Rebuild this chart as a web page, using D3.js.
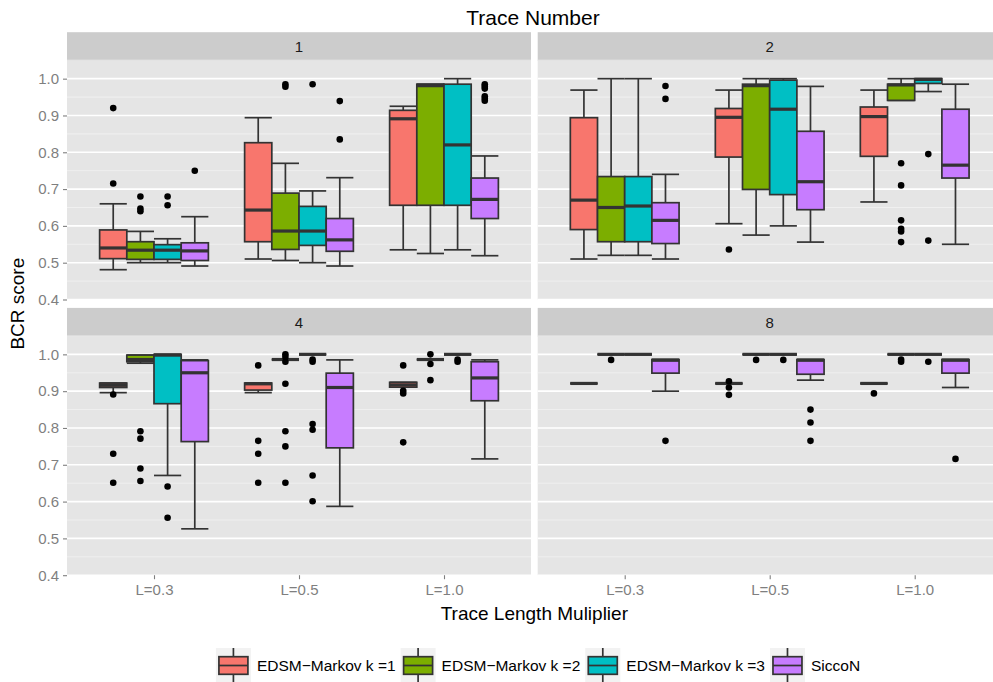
<!DOCTYPE html>
<html>
<head>
<meta charset="utf-8">
<script src="https://cdn.jsdelivr.net/npm/d3@7"></script>
<style>
  html, body { margin: 0; padding: 0; background: #ffffff; }
  svg { display: block; font-family: "Liberation Sans", Arial, Helvetica, sans-serif; }
</style>
</head>
<body>
<svg id="chart" width="993" height="682"></svg>
<script>
// Facets, categories and series
const traces = ["1", "2", "4", "8"];
const lengths = ["L=0.3", "L=0.5", "L=1.0"];
const methods = ["EDSM\u2212Markov k =1", "EDSM\u2212Markov k =2", "EDSM\u2212Markov k =3", "SiccoN"];
const colors = ["#F8766D", "#7CAE00", "#00BFC4", "#C77CFF"];
const yTicks = [0.4, 0.5, 0.6, 0.7, 0.8, 0.9, 1.0];

// Box statistics per method: [lower whisker, Q1, median, Q3, upper whisker]
// rows ordered trace 1 (L=0.3, L=0.5, L=1.0), trace 2, trace 4, trace 8
const edsm1Stats = [
  [0.481, 0.511, 0.540, 0.589, 0.660], [0.510, 0.557, 0.643, 0.826, 0.894], [0.535, 0.656, 0.891, 0.914, 0.925],
  [0.510, 0.590, 0.670, 0.894, 0.969], [0.606, 0.787, 0.895, 0.919, 0.969], [0.665, 0.789, 0.897, 0.923, 0.969],
  [0.896, 0.910, 0.916, 0.922, 0.922], [0.896, 0.903, 0.920, 0.922, 0.922], [0.911, 0.911, 0.917, 0.924, 0.924],
  [0.921, 0.921, 0.921, 0.921, 0.921], [0.921, 0.921, 0.921, 0.921, 0.921], [0.921, 0.921, 0.921, 0.921, 0.921]
];
const edsm2Stats = [
  [0.500, 0.509, 0.534, 0.557, 0.585], [0.506, 0.536, 0.586, 0.689, 0.770], [0.525, 0.656, 0.981, 0.985, 0.985],
  [0.520, 0.557, 0.650, 0.734, 1.000], [0.575, 0.699, 0.981, 0.985, 1.000], [0.941, 0.941, 0.983, 0.985, 1.000],
  [0.976, 0.980, 0.986, 0.998, 0.998], [0.986, 0.986, 0.986, 0.986, 0.986], [0.986, 0.986, 0.986, 0.986, 0.986],
  [1.000, 1.000, 1.000, 1.000, 1.000], [1.000, 1.000, 1.000, 1.000, 1.000], [1.000, 1.000, 1.000, 1.000, 1.000]
];
const edsm3Stats = [
  [0.500, 0.509, 0.534, 0.549, 0.565], [0.500, 0.547, 0.586, 0.653, 0.695], [0.535, 0.656, 0.820, 0.985, 1.000],
  [0.520, 0.557, 0.654, 0.734, 1.000], [0.600, 0.685, 0.917, 0.996, 1.000], [0.965, 0.987, 0.998, 1.000, 1.000],
  [0.671, 0.866, 0.998, 1.000, 1.000], [1.000, 1.000, 1.000, 1.000, 1.000], [1.000, 1.000, 1.000, 1.000, 1.000],
  [1.000, 1.000, 1.000, 1.000, 1.000], [1.000, 1.000, 1.000, 1.000, 1.000], [1.000, 1.000, 1.000, 1.000, 1.000]
];
const sicconStats = [
  [0.491, 0.506, 0.532, 0.554, 0.625], [0.491, 0.531, 0.562, 0.620, 0.731], [0.519, 0.620, 0.672, 0.730, 0.790],
  [0.510, 0.552, 0.615, 0.663, 0.740], [0.556, 0.644, 0.720, 0.857, 0.979], [0.550, 0.730, 0.765, 0.917, 0.985],
  [0.526, 0.763, 0.950, 0.983, 0.985], [0.587, 0.746, 0.910, 0.949, 0.985], [0.716, 0.874, 0.936, 0.980, 0.985],
  [0.900, 0.949, 0.984, 0.986, 0.986], [0.930, 0.946, 0.984, 0.986, 0.986], [0.910, 0.949, 0.984, 0.986, 0.986]
];

// Outlying scores, same row order
const edsm1Outliers = [
  [0.920, 0.715], [], [],
  [], [0.536], [],
  [0.891, 0.730, 0.651], [0.970, 0.765, 0.730, 0.651], [0.970, 0.901, 0.894, 0.761],
  [], [0.927, 0.910, 0.890], [0.894]
];
const edsm2Outliers = [
  [0.680, 0.647, 0.640], [0.985, 0.978], [],
  [], [], [0.770, 0.710, 0.615, 0.592, 0.585, 0.556],
  [0.791, 0.771, 0.690, 0.656], [1.000, 0.993, 0.980, 0.920, 0.791, 0.750, 0.651], [1.000, 0.974, 0.930],
  [0.985], [0.985], [0.986, 0.980]
];
const edsm3Outliers = [
  [0.680, 0.656], [0.985], [],
  [], [], [0.795, 0.560],
  [0.641, 0.556], [0.986, 0.980, 0.811, 0.795, 0.671, 0.601], [0.986, 0.980],
  [], [0.985], [0.980]
];
const sicconOutliers = [
  [0.750], [0.939, 0.835], [0.985, 0.979, 0.973, 0.952, 0.946, 0.940],
  [0.980, 0.945], [], [],
  [], [], [],
  [0.765], [0.850, 0.815, 0.765], [0.716]
];

const allStats = [edsm1Stats, edsm2Stats, edsm3Stats, sicconStats];
const allOutliers = [edsm1Outliers, edsm2Outliers, edsm3Outliers, sicconOutliers];

// Layout
const svg = d3.select("#chart");
const panelW = 464, plotH = 238.5, stripH = 28.8;
const colX = [67, 537.7];
const rowY = [61, 336.7];
const textGrey = "#7F7F7F";
const ink = "#333333";
const lw = 1.7;

const y0 = d3.scaleLinear().domain([0.4, 1.048]).range([plotH, 0]);
const xPos = d3.scalePoint().domain(lengths).range([0, panelW]).padding(0.6);
const step = xPos.step();
const dodge = d3.scaleBand().domain(methods).range([-0.375 * step, 0.375 * step]).paddingInner(0);
const bw = dodge.bandwidth();

traces.forEach((tr, ti) => {
  const col = ti % 2, row = Math.floor(ti / 2);
  const g = svg.append("g").attr("transform", `translate(${colX[col]},${rowY[row]})`);

  // strip
  g.append("rect").attr("x", 0).attr("y", -stripH).attr("width", panelW).attr("height", stripH)
    .attr("fill", "#CCCCCC");
  g.append("text").attr("x", panelW / 2).attr("y", -stripH / 2).attr("dy", "0.36em")
    .attr("text-anchor", "middle").attr("font-size", 15).attr("fill", "#1A1A1A").text(tr);

  // panel background and grid
  g.append("rect").attr("width", panelW).attr("height", plotH).attr("fill", "#E5E5E5");
  const minor = d3.range(0.45, 1.05, 0.1);
  g.selectAll("line.minor").data(minor).enter().append("line")
    .attr("x1", 0).attr("x2", panelW).attr("y1", d => y0(d)).attr("y2", d => y0(d))
    .attr("stroke", "#F2F2F2").attr("stroke-width", 0.8);
  g.selectAll("line.major").data(yTicks).enter().append("line")
    .attr("x1", 0).attr("x2", panelW).attr("y1", d => y0(d)).attr("y2", d => y0(d))
    .attr("stroke", "#FFFFFF").attr("stroke-width", 1.6);

  // boxes
  lengths.forEach((len, li) => {
    const idx = ti * 3 + li;
    methods.forEach((m, mi) => {
      const s = allStats[mi][idx];
      const cx = xPos(len) + dodge(m) + bw / 2;
      const left = xPos(len) + dodge(m);
      const bg = g.append("g");
      // whisker with caps
      bg.append("line").attr("x1", cx).attr("x2", cx).attr("y1", y0(s[0])).attr("y2", y0(s[4]))
        .attr("stroke", ink).attr("stroke-width", lw);
      [s[0], s[4]].forEach(v => bg.append("line").attr("x1", left).attr("x2", left + bw)
        .attr("y1", y0(v)).attr("y2", y0(v)).attr("stroke", ink).attr("stroke-width", lw));
      // box
      bg.append("rect").attr("x", left).attr("width", bw)
        .attr("y", y0(s[3])).attr("height", Math.max(0, y0(s[1]) - y0(s[3])))
        .attr("fill", colors[mi]).attr("stroke", ink).attr("stroke-width", lw);
      // median
      bg.append("line").attr("x1", left).attr("x2", left + bw).attr("y1", y0(s[2])).attr("y2", y0(s[2]))
        .attr("stroke", ink).attr("stroke-width", 3.2);
      // outliers
      bg.selectAll("circle").data(allOutliers[mi][idx]).enter().append("circle")
        .attr("cx", cx).attr("cy", d => y0(d)).attr("r", 3.3).attr("fill", "#000000");
    });
  });

  // y axis on left column
  if (col === 0) {
    const ya = g.append("g").call(d3.axisLeft(y0).tickValues(yTicks).tickFormat(d3.format(".1f"))
      .tickSize(4).tickPadding(4));
    ya.select(".domain").remove();
    ya.selectAll(".tick line").attr("stroke", textGrey).attr("stroke-width", 1.1);
    ya.selectAll(".tick text").attr("fill", textGrey).attr("font-size", 15)
      .attr("font-family", "'Liberation Sans', Arial, sans-serif");
  }
  // x axis on bottom row
  if (row === 1) {
    const xa = g.append("g").attr("transform", `translate(0,${plotH})`)
      .call(d3.axisBottom(xPos).tickSize(4).tickPadding(5));
    xa.select(".domain").remove();
    xa.selectAll(".tick line").attr("stroke", textGrey).attr("stroke-width", 1.1);
    xa.selectAll(".tick text").attr("fill", textGrey).attr("font-size", 15)
      .attr("font-family", "'Liberation Sans', Arial, sans-serif");
  }
});

// titles
const plotLeft = colX[0], plotRight = colX[1] + panelW;
svg.append("text").attr("x", 533).attr("y", 25).attr("text-anchor", "middle")
  .attr("font-size", 21).attr("fill", "#000").text("Trace Number");
svg.append("text").attr("x", (plotLeft + plotRight) / 2).attr("y", 620).attr("text-anchor", "middle")
  .attr("font-size", 19).attr("fill", "#000").text("Trace Length Muliplier");
svg.append("text").attr("transform", `translate(24,${(rowY[0] - stripH + rowY[1] + plotH) / 2}) rotate(-90)`)
  .attr("text-anchor", "middle").attr("font-size", 19).attr("fill", "#000").text("BCR score");

// legend
const keyW = 35, keyH = 35, labelGap = 6, itemGap = 5;
const legend = svg.append("g");
let lx = 0;
methods.forEach((m, i) => {
  const it = legend.append("g").attr("transform", `translate(${lx},0)`);
  it.append("rect").attr("width", keyW).attr("height", keyH).attr("fill", "#F2F2F2");
  it.append("line").attr("x1", keyW / 2).attr("x2", keyW / 2).attr("y1", 0).attr("y2", keyH)
    .attr("stroke", ink).attr("stroke-width", lw);
  it.append("rect").attr("x", 3).attr("y", 8.7).attr("width", keyW - 6).attr("height", keyH - 17.4)
    .attr("fill", colors[i]).attr("stroke", ink).attr("stroke-width", lw);
  it.append("line").attr("x1", 3).attr("x2", keyW - 3).attr("y1", keyH / 2).attr("y2", keyH / 2)
    .attr("stroke", ink).attr("stroke-width", lw);
  const t = it.append("text").attr("x", keyW + labelGap).attr("y", keyH / 2).attr("dy", "0.36em")
    .attr("font-size", 15.5).attr("fill", "#000").text(m);
  const tw = t.node().getComputedTextLength();
  lx += keyW + labelGap + tw + itemGap;
});
const legendW = lx - itemGap;
legend.attr("transform", `translate(${538 - legendW / 2},648)`);
</script>
</body>
</html>
